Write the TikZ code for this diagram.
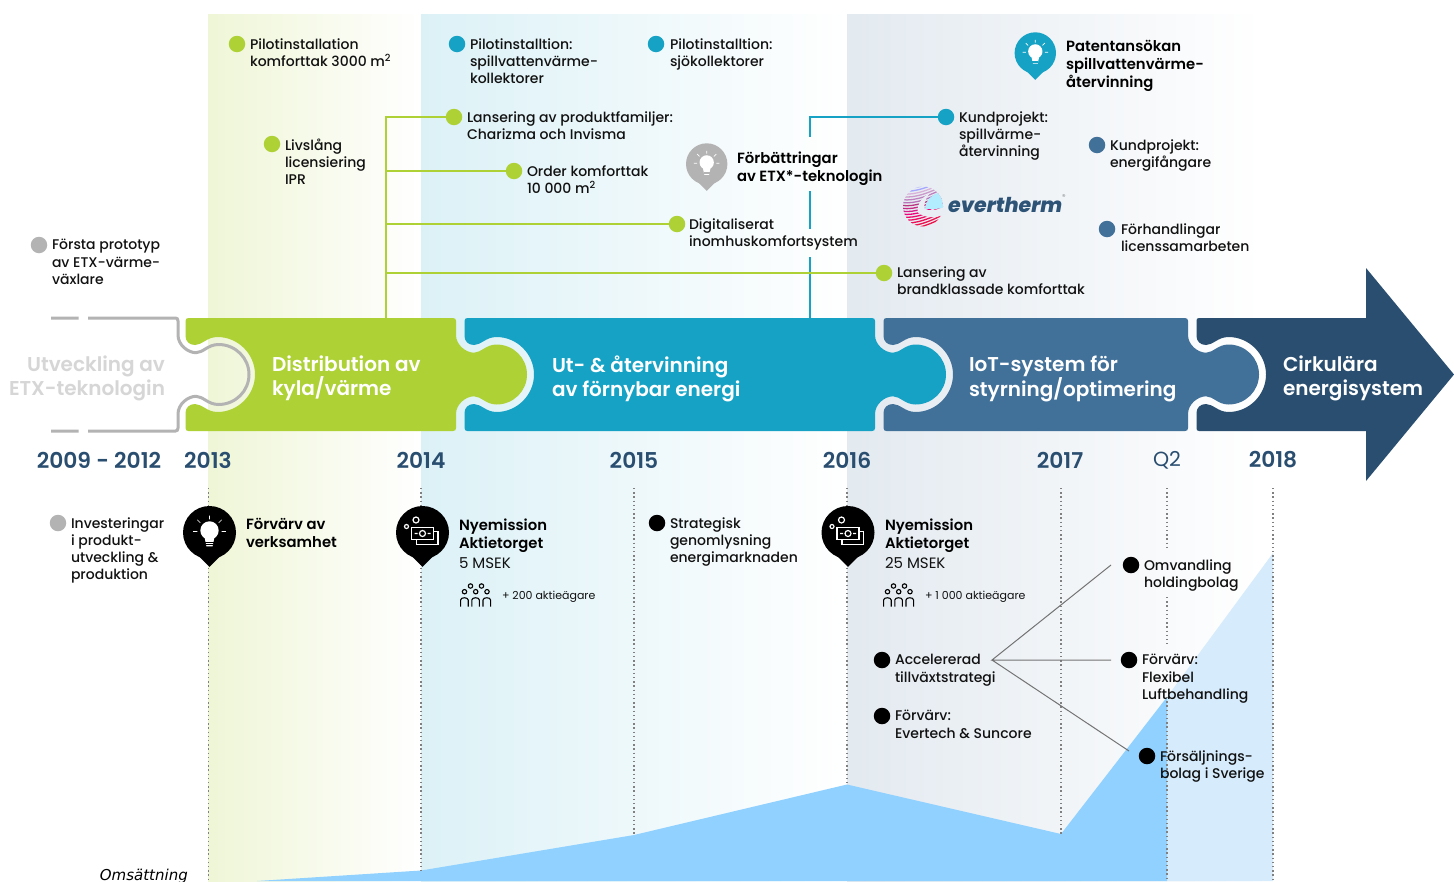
\documentclass[tikz,border=0pt]{standalone}
\usepackage{fontspec}
\setmainfont{Poppins Medium}[BoldFont={Poppins SemiBold},ItalicFont={Poppins Medium Italic}]
\newfontfamily\regfont{Poppins}
\newfontfamily\omsfont{DejaVu Sans}[ItalicFont={DejaVu Sans Oblique}]
\definecolor{cgreen}{HTML}{AED136}
\definecolor{cblue}{HTML}{15A2C5}
\definecolor{ciot}{HTML}{417099}
\definecolor{cdark}{HTML}{2A4E70}
\definecolor{cgray}{HTML}{B3B3B3}
\definecolor{ctext}{HTML}{111111}
\definecolor{careaA}{HTML}{90D1FF}
\definecolor{careaB}{HTML}{D6EBFB}
\tikzset{
  x=1pt,y=-1pt,
  txt/.style={anchor=north west,inner sep=0pt,outer sep=0pt,yshift=5.5pt,align=left,text=ctext,
    font=\fontsize{14}{17.2}\selectfont,execute at begin node={\rule{0pt}{11pt}}},
  head/.style={txt,font=\fontsize{14.8}{18}\selectfont\bfseries,text=black},
  title/.style={anchor=north west,inner sep=0pt,outer sep=0pt,yshift=8.5pt,align=left,text=white,
    font=\fontsize{20}{24}\selectfont\bfseries,execute at begin node={\rule{0pt}{15pt}}},
  yearlab/.style={anchor=center,inner sep=0pt,text=cdark,font=\fontsize{21.8}{24}\selectfont\bfseries},
  dotn/.style={circle,inner sep=0pt,minimum size=16.5pt,fill=#1},
  conn/.style={draw=#1,line width=2pt},
  thinl/.style={draw=black!55,line width=1pt},
  vdot/.style={draw=black!50,line width=1.1pt,dash pattern=on 1.4pt off 2.8pt},
  iconw/.style={draw=white,line width=1.2pt,fill=none},
  iconk/.style={draw=black,line width=1.1pt,fill=none},
}
% tab: top to bottom, X is the right edge of the piece
\newcommand{\tabdown}[1]{
 -- ({#1},335) .. controls ({#1},345) and ({#1+10},352.7) .. ({#1+18},352.7)
 .. controls ({#1+25},352.7) and ({#1+30},344.5) .. ({#1+40.5},344.5)
 .. controls ({#1+57.5},344.5) and ({#1+71},358) .. ({#1+71},374.5)
 .. controls ({#1+71},391) and ({#1+57.5},404.5) .. ({#1+40.5},404.5)
 .. controls ({#1+30},404.5) and ({#1+25},396.3) .. ({#1+18},396.3)
 .. controls ({#1+10},396.3) and ({#1},404) .. ({#1},414) }
% notch: bottom to top, X is the right edge of the previous piece
\newcommand{\notchup}[1]{
 -- ({#1+8.5},413) .. controls ({#1+8.5},408) and ({#1+12},404) .. ({#1+18},404)
 .. controls ({#1+25},404) and ({#1+30},412) .. ({#1+40.5},412)
 .. controls ({#1+61},412) and ({#1+78},395) .. ({#1+78},374.5)
 .. controls ({#1+78},354) and ({#1+61},337) .. ({#1+40.5},337)
 .. controls ({#1+30},337) and ({#1+25},345) .. ({#1+18},345)
 .. controls ({#1+12},345) and ({#1+8.5},341) .. ({#1+8.5},336) }
\newcommand{\piece}[4]{% fill, X prev, right edge, name
 \path[fill=#1] ({#2+11.5},318) -- ({#3-3},318) .. controls ({#3-1},318) and (#3,319) .. (#3,321)
   \tabdown{#3} -- (#3,428) .. controls (#3,430) and ({#3-1},431) .. ({#3-3},431)
   -- ({#2+11.5},431) .. controls ({#2+9.5},431) and ({#2+8.5},430) .. ({#2+8.5},428)
   \notchup{#2} -- ({#2+8.5},321) .. controls ({#2+8.5},319) and ({#2+9.5},318) .. ({#2+11.5},318) -- cycle;}
\newcommand{\pin}[5]{% name, x, y, r, colour
 \fill[#5] ({#2-0.45*#4},{#3+0.85*#4}) -- (#2,{#3+1.3*#4}) -- ({#2+0.45*#4},{#3+0.85*#4}) -- cycle;
 \node[circle,inner sep=0pt,minimum size={2*#4*1pt},fill=#5] (#1) at (#2,#3) {};}
\newcommand{\bulb}[4]{% x,y,r,bg
 \begin{scope}[shift={(#1,#2)},x={#3*1pt/26},y={-#3*1pt/26}]
  \fill[white] (0,-2) circle (9);
  \fill[white] (-5,4) -- (5,4) -- (3,13.5) -- (-3,13.5) -- cycle;
  \draw[#4,line width=0.5pt] (-4,10) -- (4,10) (-3.6,12) -- (3.6,12);
  \draw[white,line width=0.7pt] (0,-13) -- (0,-16.5) (-9,-9.5) -- (-12,-12.5) (9,-9.5) -- (12,-12.5) (-12,-1) -- (-16,-1) (12,-1) -- (16,-1);
 \end{scope}}
\newcommand{\money}[2]{%
 \begin{scope}[shift={(#1,#2)}]
  \draw[iconw] (-6.5,-12.5) circle (3) (-16,-6) circle (2);
  \draw[iconw,fill=black] (-11,-5) rectangle (11,7);
  \draw[iconw] (11,-1) -- (15.5,-1) -- (15.5,12) -- (-6,12) -- (-6,7);
  \draw[iconw] (0,1) circle (3) (-8,1) -- (-5,1) (5,1) -- (8,1);
 \end{scope}}
\newcommand{\people}[2]{%
 \begin{scope}[shift={(#1,#2)}]
  \draw[iconk] (10.5,1) circle (2.2) (21.5,1) circle (2.2) (4.5,6.7) circle (2.2) (15.7,6.7) circle (2.2) (27,6.7) circle (2.2);
  \foreach \a in {0,11.2,22.4}{
   \draw[iconk] (\a+0.6,21.5) -- (\a+0.6,15) .. controls (\a+0.6,12) and (\a+8.2,12) .. (\a+8.2,15) -- (\a+8.2,21.5);}
 \end{scope}}
\begin{document}
\begin{tikzpicture}[x=1pt,y=-1pt]
\useasboundingbox (0,0) rectangle (1454,881);
\path[fill=white] (0,0) rectangle (1454,881);
% bands
\shade[left color=green!0!cgreen!20!white,right color=white] (208,14) rectangle (421,881);
\shade[left color=cblue!15!white,right color=white] (421,14) rectangle (847,881);
\shade[left color=ciot!15!white,right color=white] (847,14) rectangle (1262,881);
% revenue area
\coordinate (r0) at (257,881); \coordinate (r1) at (421,870.5); \coordinate (r2) at (634,835);
\coordinate (r3) at (847,784.5); \coordinate (r4) at (1061,834); \coordinate (r5) at (1167,697);
\coordinate (r6) at (1273,553);
\fill[careaB] (r5) -- (r6) -- (1273,881) -- (1167,881) -- cycle;
\fill[careaA] (r0) -- (r1) -- (r2) -- (r3) -- (r4) -- (r5) -- (1167,881) -- cycle;
% dotted year lines
\draw[vdot] (208.5,488) -- (208.5,881);
\draw[vdot] (421,488) -- (r1);
\draw[vdot] (634,488) -- (r2);
\draw[vdot] (847,488) -- (r3);
\draw[vdot] (1061,488) -- (r4);
\draw[vdot] (1167,488) -- (1167,548) (1167,597) -- (1167,644) (r5) -- (1167,881);
\draw[vdot] (1273,488) -- (1273,881);
% gray outline piece
\draw[cgray,line width=3pt] (51,318) -- (78.5,318) (88,318) -- (175.5,318) .. controls (177,318) and (178,319) .. (178,321)
 \tabdown{178} -- (178,428) .. controls (178,430) and (177,431) .. (175.5,431) -- (88,431) (78.5,431) -- (51,431);
% connectors + dots
\node[dotn=cgreen] (dA) at (454,117) {};
\node[dotn=cgreen] (dB) at (514,171) {};
\node[dotn=cgreen] (dC) at (677,224) {};
\node[dotn=cgreen] (dD) at (884,273) {};
\node[dotn=cblue] (dE) at (946,117) {};
\coordinate (cg) at (386,318);
\coordinate (cb) at (810,318);
\coordinate (cbA) at (810,257); \coordinate (cbB) at (810,229); \coordinate (cbC) at (810,191); \coordinate (cbD) at (810,137);
\draw[conn=cgreen] (cg) |- (dA);
\draw[conn=cgreen] (cg) |- (dB);
\draw[conn=cgreen] (cg) |- (dC);
\draw[conn=cblue] (cb) -- (cbA) (cbB) -- (cbC) (cbD) |- (dE);
\draw[conn=cgreen] (cg) |- (dD);
% pieces
\piece{cgreen}{177}{456}{pg}
\piece{cblue}{456}{875}{pb}
\piece{ciot}{875}{1188}{pi}
\path[fill=cdark] (1199,318) -- (1366,318) -- (1366,268) -- (1454,374.5) -- (1366,481) -- (1366,431) -- (1199,431)
  .. controls (1197,431) and (1196.5,430) .. (1196.5,428) \notchup{1188} -- (1196.5,321) .. controls (1196.5,319) and (1197,318) .. (1199,318) -- cycle;
% piece titles
\node[title] (t1) at (272,364) {Distribution av\\kyla/värme};
\node[title] (t2) at (552,364) {Ut- \& återvinning\\av förnybar energi};
\node[title] (t3) at (969,364) {IoT-system för\\styrning/optimering};
\node[title] (t4) at (1283,364) {Cirkulära\\energisystem};
\node[title,anchor=north east,align=right,text=black!16] (t0) at (165,364) {Utveckling av\\ETX-teknologin};
% years
\node[yearlab] (y0) at (99,460) {2009 - 2012};
\node[yearlab] (y1) at (208,460) {2013};
\node[yearlab] (y2) at (421,460) {2014};
\node[yearlab] (y3) at (634,460) {2015};
\node[yearlab] (y4) at (847,460) {2016};
\node[yearlab] (y5) at (1060,460) {2017};
\node[yearlab,font=\fontsize{20.5}{24}\regfont] (y6) at (1167,460) {Q2};
\node[yearlab] (y7) at (1273,460) {2018};
% top texts
\node[dotn=cgreen] (d1) at (237,44) {};
\node[txt] (x1) at (250,44) {Pilotinstallation\\komforttak 3000 m\textsuperscript{2}};
\node[dotn=cgreen] (d2) at (272,144) {};
\node[txt] (x2) at (285,144) {Livslång\\licensiering\\IPR};
\node[dotn=cblue] (d3) at (457,44) {};
\node[txt] (x3) at (470,44) {Pilotinstalltion:\\spillvattenvärme-\\kollektorer};
\node[dotn=cblue] (d4) at (656,44) {};
\node[txt] (x4) at (670,44) {Pilotinstalltion:\\sjökollektorer};
\node[txt] (xA) at (467,117) {Lansering av produktfamiljer:\\Charizma och Invisma};
\node[txt] (xB) at (527,171) {Order komforttak\\10 000 m\textsuperscript{2}};
\node[txt] (xC) at (689,224) {Digitaliserat\\inomhuskomfortsystem};
\node[txt] (xD) at (897,272) {Lansering av\\brandklassade komforttak};
\node[txt] (xE) at (959,117) {Kundprojekt:\\spillvärme-\\återvinning};
\node[dotn=ciot] (d5) at (1097,145) {};
\node[txt] (x5) at (1110,145) {Kundprojekt:\\energifångare};
\node[dotn=ciot] (d6) at (1107,229) {};
\node[txt] (x6) at (1121,229) {Förhandlingar\\licenssamarbeten};
\node[dotn=cgray] (d7) at (39,245) {};
\node[txt] (x7) at (52,245) {Första prototyp\\av ETX-värme-\\växlare};
% pins
\pin{p1}{706.7}{164}{20.7}{cgray} \bulb{706.7}{164}{20.7}{cgray}
\node[head] (hp1) at (737,157) {Förbättringar\\av ETX*-teknologin};
\pin{p2}{1035.3}{53}{20.7}{cblue} \bulb{1035.3}{53}{20.7}{cblue}
\node[head] (hp2) at (1066,46) {Patentansökan\\spillvattenvärme-\\återvinning};
\pin{p3}{209.5}{532.5}{26.5}{black} \bulb{209.5}{532.5}{26.5}{black}
\node[head] (hp3) at (246,524) {Förvärv av\\verksamhet};
\pin{p4}{422.5}{532.5}{26.5}{black} \money{422.5}{532.5}
\node[head] (hp4) at (459,524) {Nyemission\\Aktietorget};
\node[txt,font=\fontsize{15}{17.3}\regfont] (m1) at (459,563) {5 MSEK};
\people{460}{585}
\node[txt,font=\fontsize{11}{13}\regfont,yshift=1.5pt] (s1) at (502,595) {+ 200 aktieägare};
\pin{p5}{848}{532.5}{26.5}{black} \money{848}{532.5}
\node[head] (hp5) at (885,524) {Nyemission\\Aktietorget};
\node[txt,font=\fontsize{15}{17.3}\regfont] (m2) at (885,563) {25 MSEK};
\people{883}{585}
\node[txt,font=\fontsize{11}{13}\regfont,yshift=1.5pt] (s2) at (925,595) {+ 1 000 aktieägare};
% bottom texts
\node[dotn=cgray] (b0) at (58,523) {};
\node[txt] (bt0) at (71,523) {Investeringar\\i produkt-\\utveckling \&\\produktion};
\node[dotn=black] (b1) at (657,523) {};
\node[txt] (bt1) at (670,523) {Strategisk\\genomlysning\\energimarknaden};
\node[dotn=black] (b2) at (1131,565) {};
\node[txt] (bt2) at (1144,565) {Omvandling\\holdingbolag};
\node[dotn=black] (b3) at (882,660) {};
\node[txt] (bt3) at (895,660) {Accelererad\\tillväxtstrategi};
\node[dotn=black] (b4) at (1129,660) {};
\node[txt] (bt4) at (1142,660) {Förvärv:\\Flexibel\\Luftbehandling};
\node[dotn=black] (b5) at (882,716) {};
\node[txt] (bt5) at (895,716) {Förvärv:\\Evertech \& Suncore};
\node[dotn=black] (b6) at (1147,756) {};
\node[txt] (bt6) at (1160,756) {Försäljnings-\\bolag i Sverige};
\coordinate (fan) at (992,660);
\coordinate (fa) at (1111,565); \coordinate (fb) at (1111,660); \coordinate (fc) at (1129,751);
\draw[thinl] (fa) -- (fan) -- (fb) (fan) -- (fc);
\node[anchor=east,inner sep=0pt,font=\fontsize{15}{16}\omsfont\itshape,text=black] (oms) at (188,876) {Omsättning};
% evertherm logo
\begin{scope}
 \clip (923,206.5) circle (20);
 \foreach \i/\c in {0/blue!30!white,1/blue!35!white,2/violet!30!white,3/violet!40!white,4/violet!50!white,5/violet!55!white,6/magenta!45!violet,7/magenta!60!violet,8/magenta!75!violet,9/magenta!85!red,10/magenta!70!red,11/magenta!60!red,12/magenta!50!red,13/magenta!40!red,14/magenta!35!red,15/magenta!35!red}{
  \draw[\c,line width=1.3pt] (902,{184+2.9*\i+4}) .. controls (915,{184+2.9*\i+6}) and (932,{184+2.9*\i-1}) .. (945,{184+2.9*\i-8});
 }
 \fill[blue!25!cyan!30!white] (925,209) .. controls (926,198) and (935,192) .. (945,192) -- (945,208) .. controls (938,209) and (932,209) .. cycle;
\end{scope}
\fill[ciot!12!white] (917.5,212) .. controls (917,204) and (922,197) .. (930,193) .. controls (925,199) and (923,205) .. (925,209.5) .. controls (930,211) and (938,210) .. (945,207) -- (945,214) .. controls (935,219) and (924,218) .. cycle;
\node[anchor=west,inner sep=0pt,text=cdark!85!ciot,font=\fontsize{20.5}{26}\selectfont\bfseries\itshape] (logo) at (948,205) {evertherm};
\node[anchor=west,inner sep=0pt,text=black!45,font=\fontsize{7}{8}\regfont] (logor) at (1062,197) {®};
\end{tikzpicture}
\end{document}
